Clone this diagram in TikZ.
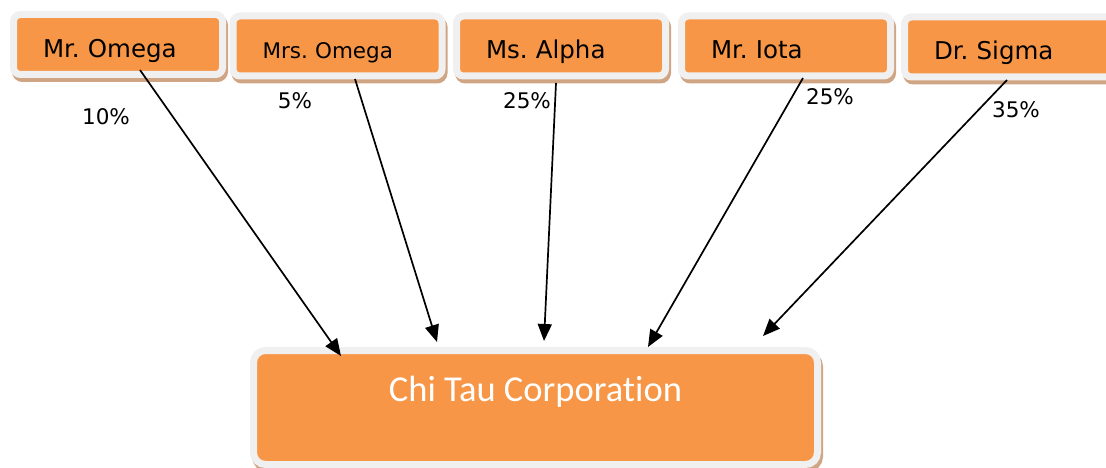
\documentclass[tikz,border=0pt]{standalone}
\usepackage{fontspec}
\setmainfont{DejaVu Sans}
\newfontfamily\corpfont[Ligatures=NoCommon]{Carlito}
\usetikzlibrary{arrows.meta,shadows}
\definecolor{boxorange}{HTML}{F79646}
\definecolor{rimgray}{HTML}{F0F0F0}
\definecolor{shadowbrown}{HTML}{D0A584}
\frenchspacing

\begin{document}
\begin{tikzpicture}[x=1pt,y=-1pt,
    box/.style={fill=boxorange,draw=rimgray,line width=7pt,rounded corners=7pt,
      general shadow={shadow xshift=2pt,shadow yshift=-4pt,draw=shadowbrown,fill=shadowbrown,line width=7pt}},
    owner/.style={box,inner xsep=29.5pt,text width=150pt,minimum height=60pt,align=left,
      text height=25.5pt,text depth=0pt,font=\fontsize{24.5}{27}\selectfont},
    share/.style={inner sep=0pt,font=\fontsize{21.5}{24}\selectfont},
    link/.style={line width=1.7pt,-{Triangle[length=17pt,width=14pt]}}]
    \useasboundingbox (0,0) rectangle (1106,468);
    %
    \node[owner] (omega) at (118,44.5) {Mr. Omega};
    \node[owner,font=\fontsize{21.5}{24}\selectfont] (mrsomega) at (337.5,46) {Mrs. Omega};
    \node[owner] (alpha) at (561,46) {Ms. Alpha};
    \node[owner] (iota) at (786,46) {Mr. Iota};
    \node[owner] (sigma) at (1009,47) {Dr. Sigma};
    %
    \node[box,minimum width=564pt,minimum height=114pt,rounded corners=12pt,text=white,
      text height=24pt,text depth=36pt,font=\corpfont\fontsize{36.5}{40}\selectfont] (corp) at (535.5,407.5) {Chi Tau Corporation};
    %
    \node[share] (p1) at (106,117) {10\%};
    \node[share] (p2) at (295,101) {5\%};
    \node[share] (p3) at (527,101) {25\%};
    \node[share] (p4) at (830,97) {25\%};
    \node[share] (p5) at (1016,110) {35\%};
    %
    \coordinate (s1) at (140,70);
    \coordinate (s2) at (355,79);
    \coordinate (s3) at (556,83);
    \coordinate (s4) at (803,78);
    \coordinate (s5) at (1007,80);
    \coordinate (e1) at (341,356);
    \coordinate (e2) at (437,342);
    \coordinate (e3) at (544,341);
    \coordinate (e4) at (648,347);
    \coordinate (e5) at (763,336);
    %
    \draw[link] (s1) -- (e1);
    \draw[link] (s2) -- (e2);
    \draw[link] (s3) -- (e3);
    \draw[link] (s4) -- (e4);
    \draw[link] (s5) -- (e5);
    %
\end{tikzpicture}
\end{document}
